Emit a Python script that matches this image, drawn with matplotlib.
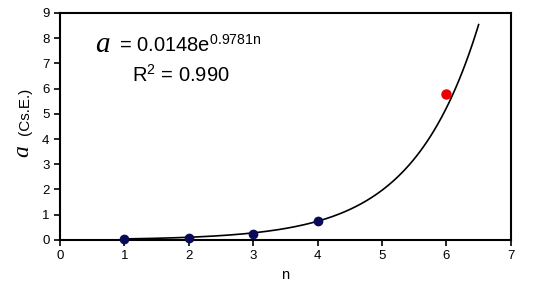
import numpy as np
import matplotlib
matplotlib.use("Agg")
import matplotlib.pyplot as plt

plt.rcParams["font.family"] = ["Liberation Sans", "DejaVu Sans"]
plt.rcParams["mathtext.fontset"] = "custom"
plt.rcParams["mathtext.rm"] = "Liberation Sans"
plt.rcParams["mathtext.it"] = "Liberation Sans:italic"

n_obs = [1, 2, 3, 4]
a_obs = [0.02, 0.09, 0.24, 0.76]
n_out = [6]
a_out = [5.78]

fit_a = 0.0148
fit_b = 0.9781
fit_start, fit_end = 1.0, 6.5

x_ticks = [0, 1, 2, 3, 4, 5, 6, 7]
y_ticks = [0, 1, 2, 3, 4, 5, 6, 7, 8, 9]

fig = plt.figure(figsize=(5.4, 2.94), dpi=100)
ax = fig.add_axes([0.111, 0.184, 0.835, 0.772])

nn = np.linspace(fit_start, fit_end, 200)
ax.plot(nn, fit_a * np.exp(fit_b * nn), color="black", linewidth=1.2, zorder=2)
ax.plot(n_obs, a_obs, "o", color="#0a0a5a", markersize=6, zorder=3, clip_on=False)
ax.plot(n_out, a_out, "o", color="#ee0000", markersize=6.5, zorder=3)

ax.set_xlim(0, 7)
ax.set_ylim(0, 9)
ax.set_xticks(x_ticks)
ax.set_yticks(y_ticks)
ax.tick_params(direction="out", length=4, width=1.2, labelsize=9.5, color="black")
for sp in ax.spines.values():
    sp.set_linewidth(1.5)

ax.set_xlabel("n", fontsize=10.5, labelpad=4)

# y label: big italic serif "a" plus "(Cs.E.)"
fig.text(0.042, 0.485, "a", family="Liberation Serif", style="italic", fontsize=17,
         rotation=90, ha="center", va="center")
fig.text(0.046, 0.62, "(Cs.E.)", fontsize=11, rotation=90, ha="center", va="center")

# fit equation
ax.text(0.55, 7.72, "a", family="Liberation Serif", style="italic", fontsize=21,
        ha="left", va="center")
ax.text(0.92, 7.72, r"= 0.0148e$^{\mathrm{0.9781n}}$", fontsize=14.5, ha="left", va="center")
ax.text(1.12, 6.55, r"R$^2$ = 0.990", fontsize=14.5, ha="left", va="center")

fig.savefig("out.png", dpi=100)
